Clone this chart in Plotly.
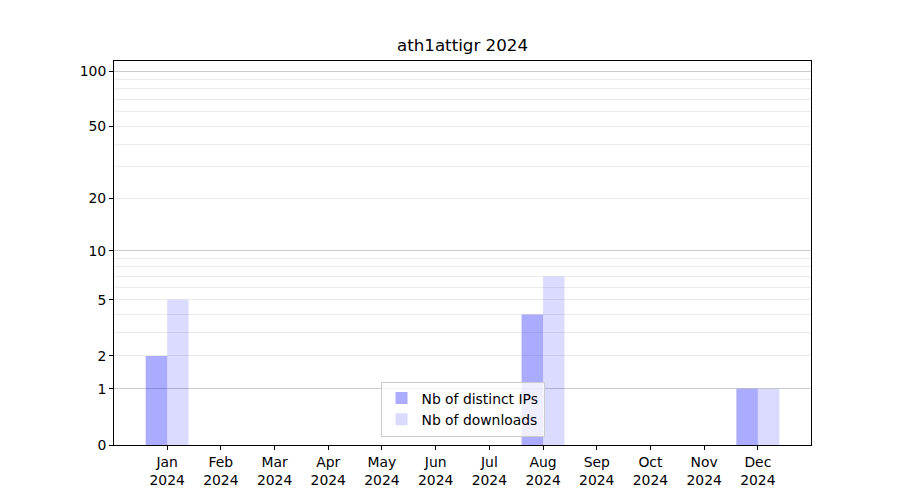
import plotly.graph_objects as go

months = ["Jan", "Feb", "Mar", "Apr", "May", "Jun", "Jul", "Aug", "Sep", "Oct", "Nov", "Dec"]
year = "2024"
distinct_ips = [2, 0, 0, 0, 0, 0, 0, 4, 0, 0, 0, 1]
downloads = [5, 0, 0, 0, 0, 0, 0, 7, 0, 0, 0, 1]
y_tick_labels = [0, 1, 2, 5, 10, 20, 50, 100]
major_grid = [1, 10, 100]
minor_grid = [2, 3, 4, 5, 6, 7, 8, 9, 20, 30, 40, 50, 60, 70, 80, 90]

x = list(range(len(months)))
# symlog-like scale: axis shows log10(1 + value); bars start at base 1 (value 0)
shift = 1

fig = go.Figure()
fig.add_trace(go.Bar(
    x=x, y=distinct_ips, base=shift, width=0.4, offset=-0.4,
    marker=dict(color="rgba(0,0,255,0.33)", line=dict(width=0)),
    name="Nb of distinct IPs",
))
fig.add_trace(go.Bar(
    x=x, y=downloads, base=shift, width=0.4, offset=0.0,
    marker=dict(color="rgba(0,0,255,0.14)", line=dict(width=0)),
    name="Nb of downloads",
))
# invisible helper trace so the labelled overlay axis is drawn
fig.add_trace(go.Scatter(
    x=[x[0]], y=[shift], yaxis="y2", mode="markers",
    marker=dict(opacity=0), showlegend=False, hoverinfo="skip",
))

yrange = [0, 2.058]
fig.update_layout(
    width=900, height=500,
    paper_bgcolor="white", plot_bgcolor="white",
    font=dict(family="DejaVu Sans", size=13.9, color="black"),
    margin=dict(l=106, r=97, t=53, b=63),
    barmode="overlay",
    title=dict(text=f"ath1attigr {year}", x=0.505, xanchor="center", y=0.925, yanchor="middle",
               font=dict(size=16.7, color="black")),
    showlegend=True,
    legend=dict(x=0.5, y=0.022, xanchor="center", yanchor="bottom",
                bordercolor="#cccccc", borderwidth=1, bgcolor="rgba(255,255,255,0.8)",
                font=dict(size=13.9), itemwidth=30, tracegroupgap=0),
    xaxis=dict(
        range=[-0.99, 11.99],
        tickmode="array", tickvals=x,
        ticktext=[f"{m}<br>{year}" for m in months],
        showgrid=False, zeroline=False,
        showline=True, linecolor="black", linewidth=1, mirror=True,
        ticks="outside", ticklen=4, tickcolor="black",
    ),
    yaxis=dict(
        type="log", range=yrange,
        tickmode="array", tickvals=[v + shift for v in major_grid],
        showticklabels=False, ticks="",
        showgrid=True, gridcolor="#cccccc", gridwidth=1,
        zeroline=False,
        minor=dict(tickmode="array", tickvals=[v + shift for v in minor_grid],
                   showgrid=True, gridcolor="#ececec", gridwidth=1, ticks=""),
        showline=True, linecolor="black", linewidth=1, mirror=True,
    ),
    yaxis2=dict(
        type="log", range=yrange, overlaying="y", side="left",
        tickmode="array", tickvals=[v + shift for v in y_tick_labels],
        ticktext=[str(v) for v in y_tick_labels],
        showgrid=False, zeroline=False, showline=False,
        ticks="outside", ticklen=4, tickcolor="black",
    ),
)

fig.write_html("out.html")
